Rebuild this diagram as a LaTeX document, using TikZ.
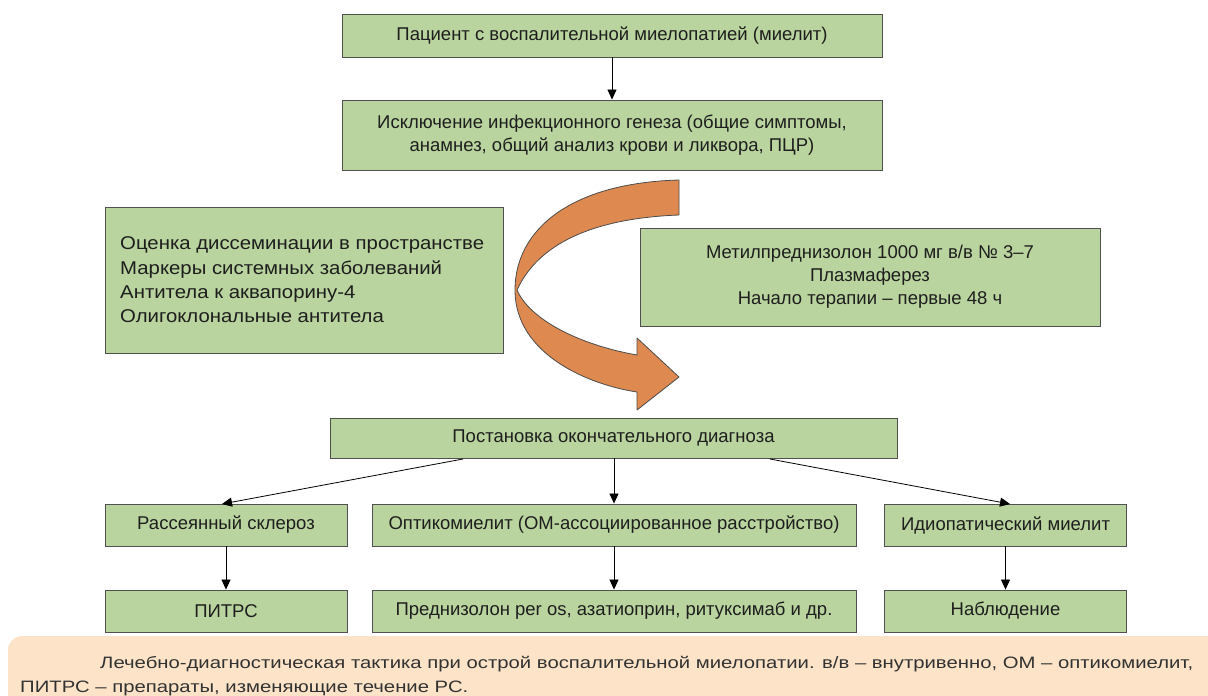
\documentclass[tikz,border=0pt]{standalone}
\usepackage{fontspec}
\setmainfont{Liberation Sans}
\newfontfamily\widefont{Liberation Sans}[FakeStretch=1.1]
\newfontfamily\capfont{Liberation Sans}[FakeStretch=1.23]
\usetikzlibrary{arrows.meta}
\definecolor{boxgreen}{RGB}{185,212,158}
\definecolor{boxline}{RGB}{80,80,80}
\definecolor{arrorange}{RGB}{222,137,80}
\definecolor{capfill}{RGB}{253,228,201}
\definecolor{txt}{RGB}{30,30,30}
\definecolor{captxt}{RGB}{50,50,50}
\tikzset{
  box/.style={draw=boxline, line width=0.9pt, fill=boxgreen, text=txt, inner sep=0pt, font=\fontsize{18.5}{23}\selectfont, align=center},
  captext/.style={anchor=base west, text=captxt, font=\capfont\fontsize{16.5}{22}\selectfont, inner sep=0pt},
  conn/.style={draw=black, line width=0.8pt, -{Triangle[length=10pt,width=9pt]}},
}
\begin{document}
\begin{tikzpicture}[x=1pt,y=-1pt]
\useasboundingbox (0,0) rectangle (1208,696);
% caption band
\fill[capfill] (8,696) -- (8,650) to[out=90,in=180] (22,636) -- (1208,636) -- (1208,696) -- cycle;
\node[captext] (cap1) at (100,668) {Лечебно-диагностическая тактика при острой воспалительной миелопатии. в/в – внутривенно, ОМ – оптикомиелит,};
\node[captext] (cap2) at (20,692) {ПИТРС – препараты, изменяющие течение РС.};

% top boxes
\node[box, minimum width=540pt, minimum height=43pt] (b1) at (612,35.5) {Пациент с воспалительной миелопатией (миелит)};
\node[box, minimum width=540pt, minimum height=70pt] (b2) at (612,135) {Исключение инфекционного генеза (общие симптомы,\\анамнез, общий анализ крови и ликвора, ПЦР)};
\node[box, minimum width=398pt, minimum height=146pt] (bl) at (304,280) {};
\node[anchor=west, text=txt, font=\widefont\fontsize{18.5}{24.3}\selectfont, align=left, inner sep=0pt] (bltext) at (120,280) {Оценка диссеминации в пространстве\\Маркеры системных заболеваний\\Антитела к аквапорину-4\\Олигоклональные антитела};
\node[box, minimum width=460pt, minimum height=98pt] (br) at (870,277) {Метилпреднизолон 1000 мг в/в № 3–7\\Плазмаферез\\Начало терапии – первые 48 ч};

% curved orange arrow
\draw[fill=arrorange, draw=black!70, line width=0.8pt, line join=round]
  (679,180) .. controls (570,183) and (515,230) .. (515,290)
  .. controls (515,355) and (590,385) .. (637,392)
  -- (637,410) -- (679,377) -- (637,338) -- (637,355)
  .. controls (580,345) and (530,320) .. (517,290)
  .. controls (540,240) and (600,218) .. (679,215) -- cycle;

% diagnosis
\node[box, minimum width=567pt, minimum height=40pt] (b3) at (613.5,438) {Постановка окончательного диагноза};
\node[box, minimum width=242pt, minimum height=42pt] (c1) at (226,525) {Рассеянный склероз};
\node[box, minimum width=484pt, minimum height=42pt] (c2) at (614,525) {Оптикомиелит (ОМ-ассоциированное расстройство)};
\node[box, minimum width=242pt, minimum height=42pt] (c3) at (1005.5,525) {Идиопатический миелит};
\node[box, minimum width=242pt, minimum height=42pt] (d1) at (226,611) {ПИТРС};
\node[box, minimum width=484pt, minimum height=42pt] (d2) at (614,611) {Преднизолон per os, азатиоприн, ритуксимаб и др.};
\node[box, minimum width=242pt, minimum height=42pt] (d3) at (1005.5,611) {Наблюдение};

% connectors
\draw[conn] (b1.south) -- (b2.north);
\coordinate (s1) at (463,459);
\coordinate (s3) at (770,459);
\coordinate (t1) at (222,504);
\coordinate (t3) at (1010,504);
\draw[conn] (s1) -- (t1);
\draw[conn] (b3.south -| c2.north) -- (c2.north);
\draw[conn] (s3) -- (t3);
\draw[conn] (c1.south) -- (d1.north);
\draw[conn] (c2.south) -- (d2.north);
\draw[conn] (c3.south) -- (d3.north);
\end{tikzpicture}
\end{document}
